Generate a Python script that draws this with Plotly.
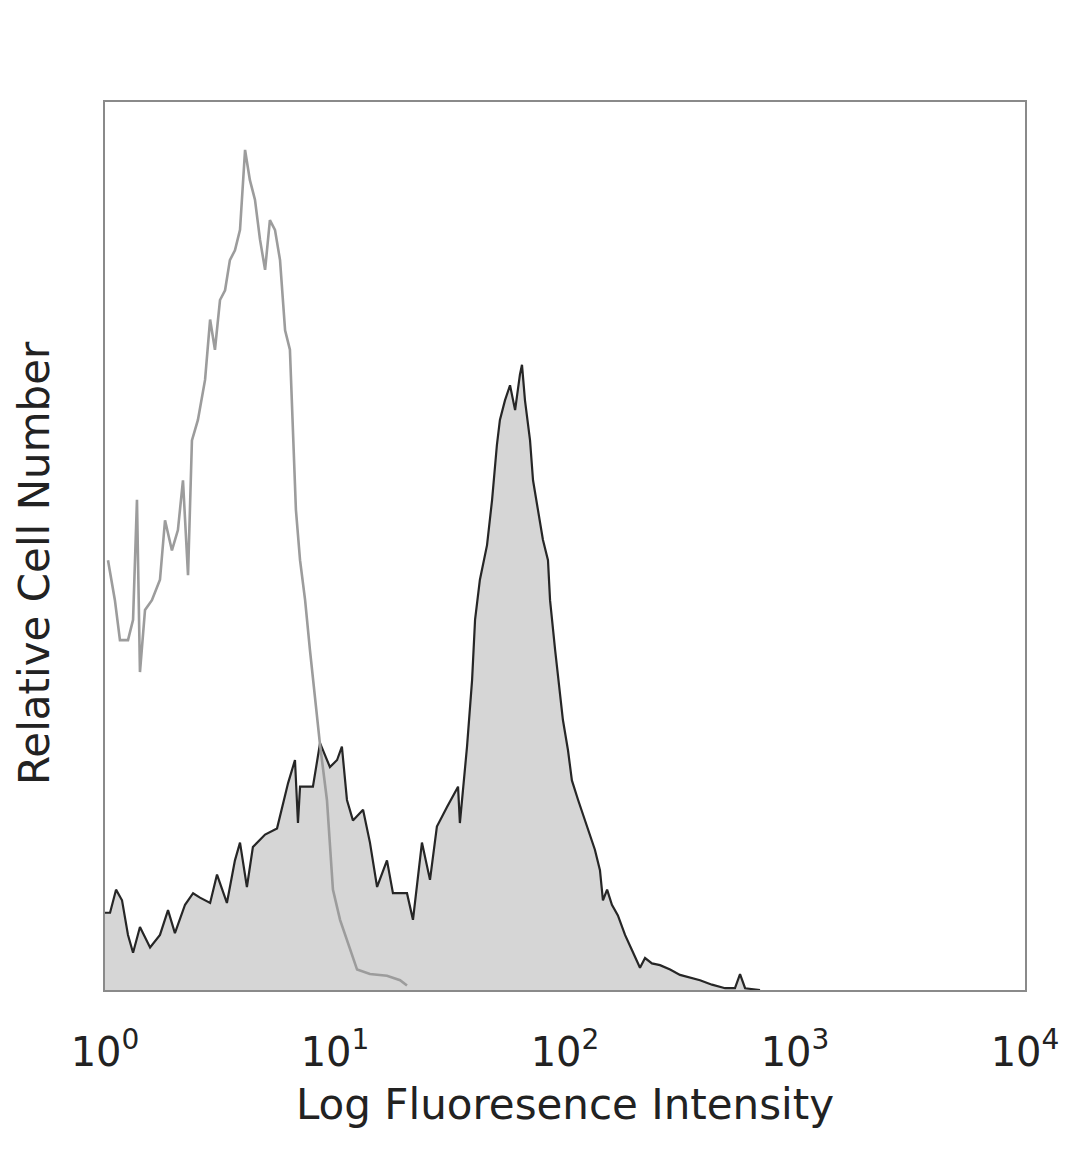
import plotly.graph_objects as go

# Isotype control (open gray histogram): log10 intensity, relative count (%)
ctrl_log = [0.013, 0.043, 0.065, 0.100, 0.122, 0.139, 0.152, 0.174, 0.204, 0.239,
            0.261, 0.291, 0.317, 0.339, 0.361, 0.378, 0.404, 0.435, 0.457, 0.478,
            0.500, 0.522, 0.543, 0.565, 0.587, 0.609, 0.630, 0.652, 0.674, 0.696,
            0.717, 0.739, 0.761, 0.783, 0.804, 0.817, 0.830, 0.848, 0.870, 0.891,
            0.913, 0.935, 0.965, 0.991, 1.022, 1.052, 1.096, 1.152, 1.226, 1.283,
            1.313]
ctrl_cnt = [48.4, 43.9, 39.4, 39.4, 41.7, 55.2, 35.8, 42.8, 43.9, 46.2,
            52.9, 49.5, 51.8, 57.4, 46.7, 61.9, 64.2, 68.7, 75.5, 72.1,
            77.7, 78.8, 82.2, 83.3, 85.6, 94.6, 91.2, 89.0, 84.5, 81.1,
            86.7, 85.6, 82.2, 74.3, 72.1, 63.1, 54.1, 48.4, 43.9, 38.3,
            32.7, 27.6, 21.4, 11.3, 7.9, 5.6, 2.3, 1.8, 1.6, 1.1,
            0.5]

# Stained sample (filled histogram)
stain_log = [0.000, 0.022, 0.048, 0.074, 0.100, 0.122, 0.152, 0.196, 0.239, 0.274,
             0.304, 0.348, 0.383, 0.413, 0.457, 0.487, 0.530, 0.565, 0.587, 0.617,
             0.643, 0.696, 0.748, 0.796, 0.826, 0.839, 0.848, 0.904, 0.935, 0.978,
             1.009, 1.030, 1.052, 1.078, 1.122, 1.152, 1.183, 1.226, 1.252, 1.313,
             1.339, 1.378, 1.413, 1.443, 1.487, 1.535, 1.543, 1.574, 1.596, 1.609,
             1.630, 1.661, 1.683, 1.704, 1.717, 1.739, 1.761, 1.783, 1.804, 1.813,
             1.826, 1.848, 1.861, 1.883, 1.904, 1.926, 1.935, 1.957, 1.978, 1.991,
             2.013, 2.030, 2.057, 2.087, 2.109, 2.130, 2.152, 2.165, 2.183, 2.204,
             2.230, 2.261, 2.291, 2.326, 2.348, 2.378, 2.413, 2.457, 2.500, 2.543,
             2.587, 2.639, 2.696, 2.739, 2.761, 2.783, 2.848]
stain_cnt = [8.7, 8.7, 11.3, 10.1, 6.2, 4.2, 7.1, 4.8, 6.2, 9.0,
             6.4, 9.6, 10.9, 10.4, 9.8, 13.0, 9.8, 14.6, 16.6, 11.6,
             16.1, 17.5, 18.2, 23.3, 25.9, 18.8, 22.9, 22.9, 27.8, 25.1,
             25.9, 27.4, 21.4, 19.1, 20.3, 16.6, 11.6, 14.6, 10.9, 10.9,
             7.9, 16.6, 12.4, 18.4, 20.6, 22.9, 18.8, 27.4, 34.9, 41.7,
             46.2, 50.1, 55.2, 61.4, 64.2, 66.4, 68.1, 65.3, 69.3, 70.4,
             66.4, 61.9, 57.4, 54.1, 50.7, 48.4, 43.9, 38.3, 33.8, 30.4,
             27.0, 23.6, 21.4, 19.1, 17.5, 15.8, 13.5, 10.1, 11.3, 9.6,
             8.4, 6.2, 4.5, 2.5, 3.6, 3.0, 2.8, 2.3, 1.7, 1.4,
             1.1, 0.6, 0.2, 0.2, 1.8, 0.2, 0.0]

tick_vals = [1, 10, 100, 1000, 10000]
tick_text = ["10<sup>0</sup>", "10<sup>1</sup>", "10<sup>2</sup>", "10<sup>3</sup>", "10<sup>4</sup>"]

fig = go.Figure()
fig.add_trace(go.Scatter(
    x=[10 ** v for v in stain_log], y=stain_cnt, mode="lines",
    fill="tozeroy", fillcolor="#d6d6d6",
    line=dict(color="#262626", width=2.2), showlegend=False))
fig.add_trace(go.Scatter(
    x=[10 ** v for v in ctrl_log], y=ctrl_cnt, mode="lines",
    line=dict(color="#9c9c9c", width=2.6), showlegend=False))

font = "DejaVu Sans"
fig.update_layout(
    width=1080, height=1169,
    margin=dict(l=97, r=63, t=94, b=187),
    paper_bgcolor="white", plot_bgcolor="white",
    font=dict(family=font, color="#222", size=40),
    xaxis=dict(type="log", range=[0, 4], tickvals=tick_vals, ticktext=tick_text,
               showgrid=False, zeroline=False, showline=True, mirror=True,
               linecolor="#8a8a8a", linewidth=2, ticks="", ticklabelstandoff=26,
               tickfont=dict(size=40, family=font),
               title=dict(text="Log Fluoresence Intensity", font=dict(size=42, family=font), standoff=16)),
    yaxis=dict(range=[0, 100], showticklabels=False, showgrid=False, zeroline=False,
               showline=True, mirror=True, linecolor="#8a8a8a", linewidth=2, ticks=""),
    annotations=[dict(text="Relative Cell Number", textangle=-90, xref="paper", yref="paper",
                      x=-0.076, y=0.481, xanchor="center", yanchor="middle", showarrow=False,
                      font=dict(size=42, family=font, color="#222"))],
)

fig.write_html("out.html")
